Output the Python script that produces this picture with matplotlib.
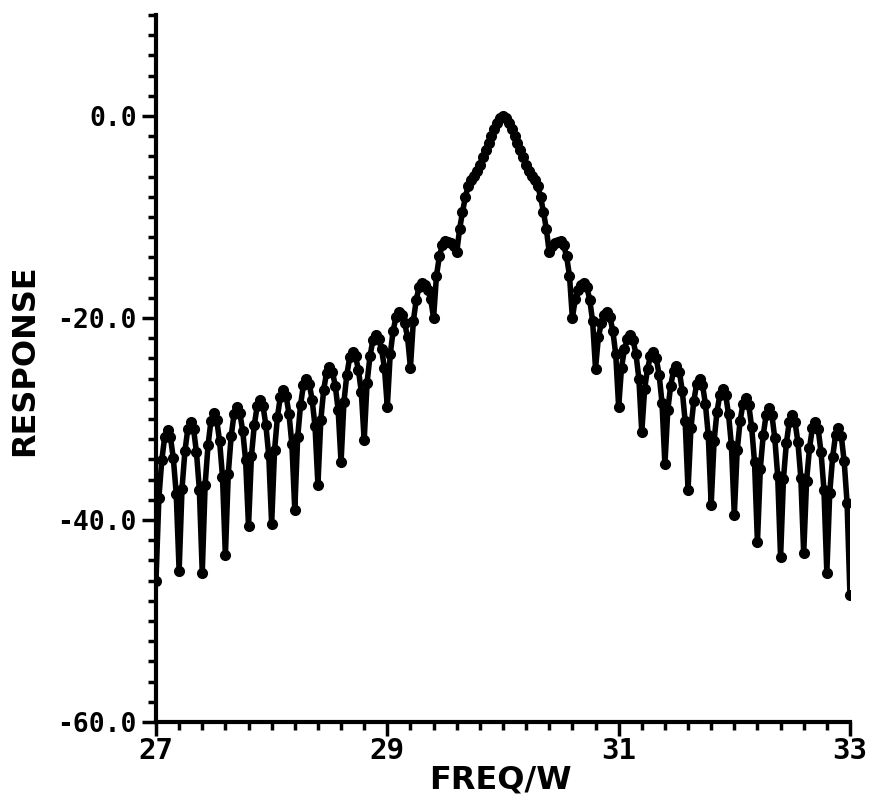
import numpy as np
import matplotlib
matplotlib.use("Agg")
from matplotlib import pyplot as plt
from matplotlib.ticker import MultipleLocator, FixedLocator

response = [
    # 27.0 - 29.6
    -46.0, -37.8, -34.1, -31.8, -31.1, -31.8, -33.9, -37.4,
    -45.0, -36.9, -33.2, -31.0, -30.3, -31.0, -33.3, -37.0,
    -45.2, -36.5, -32.6, -30.2, -29.4, -30.1, -32.2, -35.7,
    -43.5, -35.4, -31.7, -29.5, -28.8, -29.4, -31.2, -34.1,
    -40.6, -33.7, -30.6, -28.7, -28.1, -28.7, -30.6, -33.6,
    -40.4, -33.1, -29.8, -27.8, -27.1, -27.7, -29.5, -32.5,
    -39.0, -31.8, -28.6, -26.6, -26.0, -26.5, -28.1, -30.7,
    -36.5, -30.1, -27.1, -25.4, -24.8, -25.3, -26.7, -29.1,
    -34.3, -28.3, -25.6, -23.9, -23.4, -23.8, -25.1, -27.3,
    -32.1, -26.4, -23.8, -22.2, -21.7, -22.1, -23.1, -24.9,
    -28.8, -23.6, -21.3, -19.9, -19.4, -19.7, -20.5, -21.9,
    -24.9, -20.3, -18.2, -16.9, -16.5, -16.7, -17.2, -18.1,
    -20.0, -15.8, -13.9, -12.8, -12.4, -12.5, -12.6, -12.9,
    # main lobe 29.6 - 30.4
    -13.5, -11.2, -9.5, -8.0, -6.9, -6.3, -5.9, -5.4,
    -4.8, -4.1, -3.4, -2.7, -2.0, -1.3, -0.7, -0.2,
    0.0, -0.2, -0.7, -1.3, -2.0, -2.7, -3.4, -4.1,
    -4.8, -5.4, -5.9, -6.3, -6.9, -8.0, -9.5, -11.2,
    # 30.4 - 33.0
    -13.5, -12.9, -12.6, -12.5, -12.4, -12.8, -13.9, -15.8,
    -20.0, -18.1, -17.2, -16.7, -16.5, -16.9, -18.2, -20.3,
    -25.0, -21.9, -20.5, -19.7, -19.4, -19.9, -21.3, -23.6,
    -28.8, -24.9, -23.1, -22.1, -21.7, -22.2, -23.6, -26.0,
    -31.3, -27.0, -25.0, -23.8, -23.4, -24.0, -25.6, -28.4,
    -34.5, -29.1, -26.7, -25.2, -24.7, -25.3, -27.2, -30.2,
    -37.0, -30.9, -28.2, -26.5, -26.0, -26.6, -28.5, -31.6,
    -38.5, -32.2, -29.3, -27.6, -27.0, -27.6, -29.5, -32.6,
    -39.5, -33.1, -30.2, -28.5, -27.9, -28.6, -30.8, -34.3,
    -42.2, -34.9, -31.6, -29.6, -28.9, -29.6, -31.9, -35.6,
    -43.7, -35.9, -32.4, -30.3, -29.6, -30.3, -32.3, -35.8,
    -43.3, -36.1, -32.9, -30.9, -30.3, -31.0, -33.3, -37.0,
    -45.2, -37.3, -33.8, -31.6, -30.9, -31.7, -34.2, -38.3,
    -47.4,
]
freq = np.linspace(27.0, 33.0, len(response))

x_ticks = [27, 29, 31, 33]
y_ticks = [-60, -40, -20, 0]
y_labels = ["-60.0", "-40.0", "-20.0", "0.0"]

fig = plt.figure(figsize=(8.69, 8.01), dpi=100)
ax = fig.add_axes([0.1795, 0.0986, 0.7986, 0.8826])

ax.plot(freq, response, color="black", linewidth=4, marker="o",
        markersize=7, markerfacecolor="black", markeredgecolor="black")

ax.set_xlim(27, 33)
ax.set_ylim(-60, 10)
ax.spines["top"].set_visible(False)
ax.spines["right"].set_visible(False)
ax.spines["left"].set_linewidth(3)
ax.spines["bottom"].set_linewidth(3)

ax.xaxis.set_major_locator(FixedLocator(x_ticks))
ax.xaxis.set_minor_locator(MultipleLocator(0.2))
ax.yaxis.set_major_locator(FixedLocator(y_ticks))
ax.yaxis.set_minor_locator(MultipleLocator(2))
ax.set_yticklabels(y_labels)
ax.set_xticklabels([str(v) for v in x_ticks])

ax.tick_params(which="major", direction="out", length=10, width=2.5, color="black")
ax.tick_params(which="minor", direction="out", length=6, width=2.5, color="black")
ax.tick_params(axis="y", which="major", pad=4)
ax.tick_params(axis="x", which="major", pad=1)
for t in ax.get_yticklabels():
    t.set_family("DejaVu Sans Mono")
    t.set_fontweight("bold")
    t.set_fontsize(19)
for t in ax.get_xticklabels():
    t.set_family("DejaVu Sans Mono")
    t.set_fontweight("bold")
    t.set_fontsize(21)

fig.text(25 / 869, 1 - 360 / 801, "RESPONSE", rotation=90, ha="center",
         va="center", fontsize=23, fontweight="bold")
fig.text(500 / 869, 1 - 780 / 801, "FREQ/W", ha="center", va="center",
         fontsize=23, fontweight="bold")

fig.savefig("out.png", dpi=100)
